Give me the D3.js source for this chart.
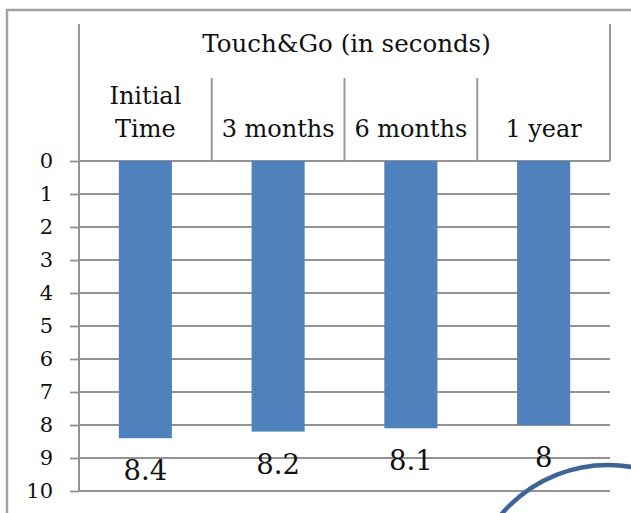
<!DOCTYPE html>
<html>
<head>
<meta charset="utf-8">
<script src="https://cdn.jsdelivr.net/npm/d3@7"></script>
<style>
  html, body { margin: 0; padding: 0; background: #fff; }
  svg { display: block; }
  text { font-family: "DejaVu Serif", serif; fill: #111; }
</style>
</head>
<body>
<script>
// Touch & Go test times, in seconds
const title = "Touch&Go (in seconds)";
const categories = ["Initial Time", "3 months", "6 months", "1 year"];
const categoryLines = [["Initial", "Time"], ["3 months"], ["6 months"], ["1 year"]];
const values = [8.4, 8.2, 8.1, 8];
const tickValues = [0, 1, 2, 3, 4, 5, 6, 7, 8, 9, 10];

const W = 631, H = 513;
const svg = d3.select("body").append("svg").attr("width", W).attr("height", H);

const x = d3.scaleBand().domain(categories).range([79, 610]).paddingInner(0.6).paddingOuter(0.3);
const y = d3.scaleLinear().domain([0, 10]).range([161, 491]);
const step = x.step();
const bandLeft = c => x(c) - step * 0.3;

const grey = "#999";

// outer frame (top and left edges)
svg.append("path")
  .attr("d", `M7,${H} V10 H${W}`)
  .attr("fill", "none").attr("stroke", "#a3a3a3").attr("stroke-width", 2.5);

// horizontal gridlines
svg.append("g").selectAll("line").data(tickValues).join("line")
  .attr("x1", 79).attr("x2", 610)
  .attr("y1", d => y(d)).attr("y2", d => y(d))
  .attr("stroke", "#929292").attr("stroke-width", 1.8);

// header table: category separators and outer sides
const bounds = categories.map(bandLeft).concat([bandLeft(categories[3]) + step]);
svg.append("g").selectAll("line").data(bounds).join("line")
  .attr("x1", d => d).attr("x2", d => d)
  .attr("y1", (d, i) => (i === 0 || i === bounds.length - 1) ? 24 : 78)
  .attr("y2", y(0))
  .attr("stroke", grey).attr("stroke-width", 2);

// title
svg.append("text")
  .attr("x", (bounds[0] + bounds[4]) / 2 + 2).attr("y", 52)
  .attr("text-anchor", "middle").attr("font-size", 24.5)
  .text(title);

// category labels
const catG = svg.append("g").selectAll("text").data(categories).join("text")
  .attr("text-anchor", "middle").attr("font-size", 24)
  .attr("x", d => x(d) + x.bandwidth() / 2)
  .attr("y", (d, i) => categoryLines[i].length > 1 ? 104 : 136.5);
catG.selectAll("tspan").data((d, i) => categoryLines[i]).join("tspan")
  .attr("x", function () { return d3.select(this.parentNode).attr("x"); })
  .attr("dy", (d, j) => j === 0 ? 0 : 33)
  .text(d => d);

// bars hanging down from zero
svg.append("g").selectAll("rect").data(values).join("rect")
  .attr("x", (d, i) => x(categories[i]))
  .attr("width", x.bandwidth())
  .attr("y", y(0))
  .attr("height", d => y(d) - y(0))
  .attr("fill", "#4f81bd");

// value labels beneath each bar
svg.append("g").selectAll("text").data(values).join("text")
  .attr("text-anchor", "middle").attr("font-size", 27.5)
  .attr("x", (d, i) => x(categories[i]) + x.bandwidth() / 2)
  .attr("y", d => y(d) + 42)
  .text(d => d);

// value axis
const axis = svg.append("g").attr("transform", "translate(79,0)")
  .call(d3.axisLeft(y).tickValues(tickValues).tickSize(9).tickPadding(17).tickFormat(d3.format("d")));
axis.select(".domain").attr("stroke", "#929292").attr("stroke-width", 2).attr("d", `M0,${y(0)}V${y(10)}`);
axis.selectAll(".tick line").attr("stroke", "#929292").attr("stroke-width", 1.8);
axis.selectAll(".tick text").attr("font-size", 21).attr("fill", "#111");

// circled callout in the lower right corner
svg.append("circle")
  .attr("cx", 608).attr("cy", 605).attr("r", 140)
  .attr("fill", "none").attr("stroke", "#3d6596").attr("stroke-width", 4.5);
</script>
</body>
</html>
